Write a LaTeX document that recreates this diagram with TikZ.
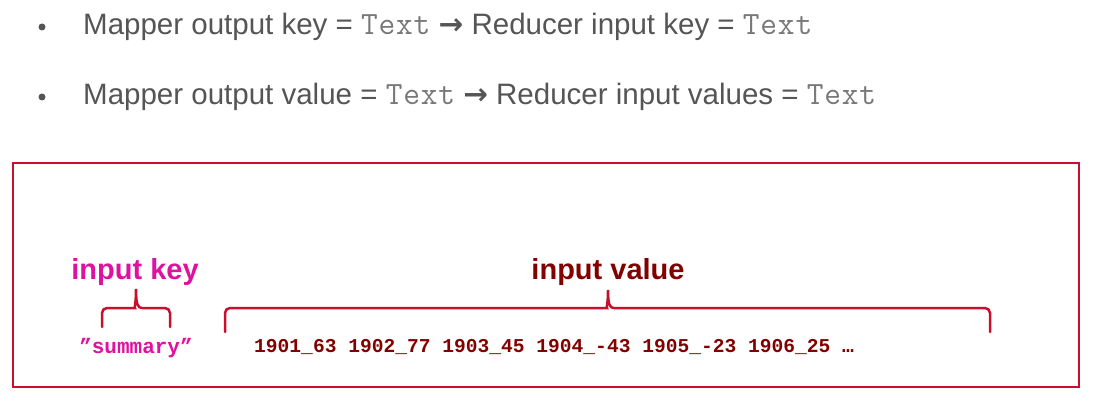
\documentclass[tikz,border=0pt]{standalone}
\usepackage{fontspec}
\setmainfont{Liberation Sans}
\setmonofont{Liberation Mono}
\newfontfamily\arrowfont{DejaVu Sans}
\newfontfamily\couriertext[Scale=1.1,LetterSpace=2.5]{Latin Modern Mono}
\usetikzlibrary{positioning}
\definecolor{slidegray}{RGB}{85,85,85}
\definecolor{codegray}{RGB}{120,120,120}
\definecolor{boxred}{RGB}{200,16,46}
\definecolor{keycol}{RGB}{222,18,160}
\definecolor{valcol}{RGB}{130,0,0}
\newcommand{\monotext}[1]{{\couriertext\color{codegray}#1}}
\tikzstyle{bullet text}=[anchor=base west,inner sep=0pt,text=slidegray,
font=\fontsize{29.5}{34}\selectfont]
\tikzstyle{bullet dot}=[circle,fill=slidegray,inner sep=0pt,minimum size=7pt]
\tikzstyle{label}=[anchor=base,inner sep=0pt,
font=\fontsize{29}{34}\selectfont\bfseries]
\tikzstyle{record}=[inner sep=0pt,font=\ttfamily\bfseries]
\tikzstyle{brace}=[boxred,line width=2.5pt,rounded corners=5pt,line cap=round]

\begin{document}
\begin{tikzpicture}[x=1pt,y=-1pt]
  \useasboundingbox (0,0) rectangle (1094,403);
  % Bullets
  \node[bullet dot] (dot1) at (42,27) {};
  \node[bullet dot] (dot2) at (42,97) {};
  \node[bullet text] (line1) at (83,35)
    {Mapper output key = \monotext{Text} {\arrowfont\bfseries →} Reducer input key = \monotext{Text}};
  \node[bullet text] (line2) at (83,105)
    {Mapper output value = \monotext{Text} {\arrowfont\bfseries →} Reducer input values = \monotext{Text}};
  % Record box
  \draw[boxred,line width=2.5pt] (13,163) rectangle (1079,387);
  \node[label,text=keycol] (keylabel) at (135,279) {input key};
  \node[label,text=valcol] (vallabel) at (608,279) {input value};
  \node[record,anchor=base,text=keycol,font=\fontsize{21}{25}\ttfamily\bfseries]
    (key) at (136,353) {”summary”};
  \node[record,anchor=base west,text=valcol,font=\fontsize{19.6}{24}\ttfamily\bfseries]
    (values) at (254,352) {1901\_63 1902\_77 1903\_45 1904\_-43 1905\_-23 1906\_25 …};
  % Braces
  \coordinate (keyl) at (102,327);
  \coordinate (keyr) at (170,327);
  \coordinate (keytip) at (136,289);
  \coordinate (vall) at (225,332);
  \coordinate (valr) at (990,332);
  \coordinate (valtip) at (608,290);
  \draw[brace] (keyl) |- (130,308) [sharp corners]
    .. controls (134,308) and (136,305) .. (keytip)
    .. controls (136,305) and (138,308) .. (142,308) [rounded corners=5pt] -| (keyr);
  \draw[brace] (vall) |- (602,308) [sharp corners]
    .. controls (606,308) and (608,305) .. (valtip)
    .. controls (608,305) and (610,308) .. (614,308) [rounded corners=5pt] -| (valr);
\end{tikzpicture}
\end{document}
